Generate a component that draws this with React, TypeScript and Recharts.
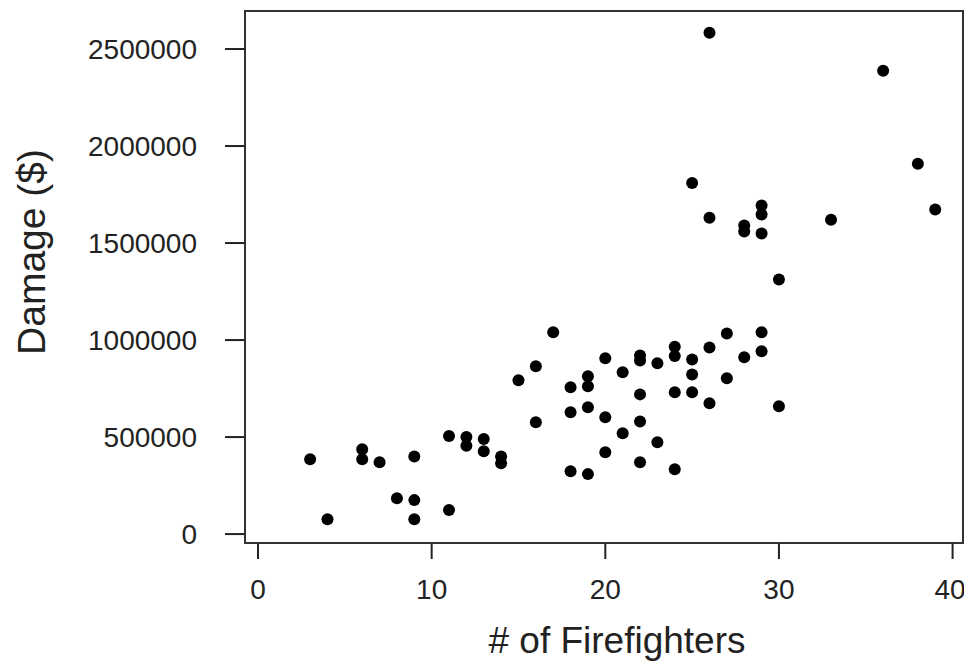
import { ScatterChart, Scatter, XAxis, YAxis, ReferenceArea } from 'recharts'

// number of firefighters sent and damage in dollars
const firefighters = [
  3, 4, 6, 6, 7, 8, 9, 9, 9, 11, 11, 12, 12, 13, 13, 14, 14,
  15, 16, 16, 17, 18, 18, 18, 19, 19, 19, 19, 20, 20, 20,
  21, 21, 22, 22, 22, 22, 22, 23, 23, 24, 24, 24, 24,
  25, 25, 25, 25, 26, 26, 26, 26, 27, 27, 28, 28, 28,
  29, 29, 29, 29, 29, 30, 30, 33, 36, 38, 39,
]
const damage = [
  386000, 77000, 437000, 386000, 370000, 185000, 400000, 175000, 77000, 505000, 124000, 500000, 455000, 490000, 427000, 400000, 365000,
  793000, 865000, 576000, 1040000, 757000, 628000, 324000, 813000, 762000, 654000, 309000, 906000, 602000, 422000,
  834000, 520000, 920000, 895000, 720000, 580000, 370000, 880000, 473000, 965000, 918000, 731000, 334000,
  1810000, 900000, 823000, 731000, 2584000, 1630000, 962000, 674000, 1034000, 803000, 1590000, 1560000, 911000,
  1693000, 1647000, 1549000, 1040000, 942000, 1312000, 659000, 1620000, 2388000, 1909000, 1673000,
]

const xTicks = [0, 10, 20, 30, 40]
const yTicks = [0, 500000, 1000000, 1500000, 2000000, 2500000]
const xDomain: [number, number] = [-0.75, 40.6]
const yDomain: [number, number] = [-46000, 2696000]

const points = firefighters.map((n, i) => ({ n, damage: damage[i] }))

const labelFont = "'Liberation Sans', Arial, sans-serif"
const tickFont = { fontFamily: labelFont, fontSize: 28, fill: '#222' }

const Dot = (props: any) => {
  const { cx, cy } = props
  if (cx == null || cy == null) return null
  return <circle cx={cx} cy={cy} r={6} fill="#000" />
}

export default function App() {
  return (
    <div style={{ position: 'absolute', left: 0, top: 0, background: '#fff' }}>
      <ScatterChart
        width={964}
        height={663}
        margin={{ top: 11, right: 1, left: 0, bottom: 0 }}
      >
        <ReferenceArea
          x1={xDomain[0]} x2={xDomain[1]} y1={yDomain[0]} y2={yDomain[1]}
          fill="#fff" fillOpacity={0} stroke="#333" strokeWidth={2}
          ifOverflow="visible"
        />
        <XAxis
          type="number"
          dataKey="n"
          domain={xDomain}
          ticks={xTicks}
          allowDataOverflow
          height={120}
          axisLine={false}
          tickLine={{ stroke: '#222', strokeWidth: 2 }}
          tickSize={16}
          tickMargin={20}
          tick={tickFont}
          label={{
            content: () => (
              <text x={617} y={653} textAnchor="middle" fontFamily={labelFont} fontSize={37} fill="#222">
                # of Firefighters
              </text>
            ),
          }}
        />
        <YAxis
          type="number"
          dataKey="damage"
          domain={yDomain}
          ticks={yTicks}
          allowDataOverflow
          width={245}
          axisLine={false}
          tickLine={{ stroke: '#222', strokeWidth: 2 }}
          tickSize={20}
          tickMargin={28}
          tick={tickFont}
          label={{
            content: () => (
              <text
                x={45} y={252} transform="rotate(-90 45 252)" textAnchor="middle"
                fontFamily={labelFont} fontSize={39} fill="#222"
              >
                Damage ($)
              </text>
            ),
          }}
        />
        <Scatter data={points} shape={Dot} isAnimationActive={false} />
      </ScatterChart>
    </div>
  )
}
